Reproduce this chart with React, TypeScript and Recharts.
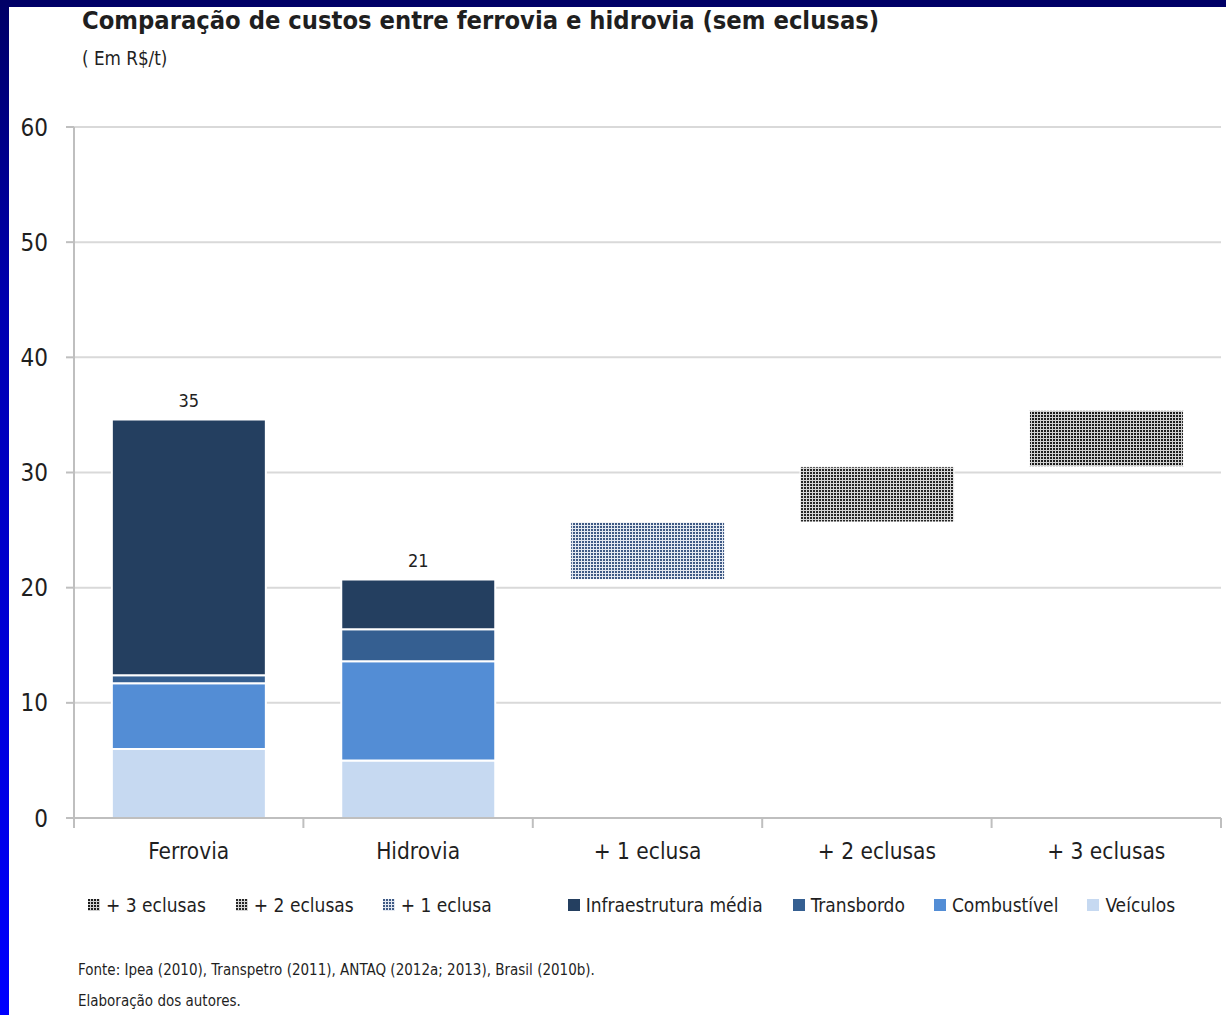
import React from "react";
import {
  BarChart,
  Bar,
  XAxis,
  YAxis,
  CartesianGrid,
  Legend,
  LabelList,
} from "recharts";

// Categories and stacked values (R$/t)
const categories = ["Ferrovia", "Hidrovia", "+ 1 eclusa", "+ 2 eclusas", "+ 3 eclusas"];
const base = [null, null, 20.7, 25.7, 30.5];
const veiculos = [6.0, 5.0, null, null, null];
const combustivel = [5.7, 8.6, null, null, null];
const transbordo = [0.7, 2.8, null, null, null];
const infraestrutura = [22.2, 4.3, null, null, null];
const eclusa1 = [null, null, 5.0, null, null];
const eclusa2 = [null, null, null, 4.8, null];
const eclusa3 = [null, null, null, null, 4.9];
const totals = [35, 21, 26, 30, 35];
const yTicks = [0, 10, 20, 30, 40, 50, 60];

const FONT = '"Liberation Sans Narrow", "DejaVu Sans Condensed", "Roboto Condensed", "Noto Sans", sans-serif';
const TEXT = "#1f1f1f";

const chartData = categories.map((name, i) => ({
  name,
  base: base[i],
  veiculos: veiculos[i],
  combustivel: combustivel[i],
  transbordo: transbordo[i],
  infraestrutura: infraestrutura[i],
  eclusa1: eclusa1[i],
  eclusa2: eclusa2[i],
  eclusa3: eclusa3[i],
  total: totals[i],
}));

// legend order as in the source
const legendItems = [
  { label: "+ 3 eclusas", fill: "url(#pat-dark)", gap: 0 },
  { label: "+ 2 eclusas", fill: "url(#pat-dark2)", gap: 30 },
  { label: "+ 1 eclusa", fill: "url(#pat-blue)", gap: 29 },
  { label: "Infraestrutura média", fill: "#243f60", gap: 76 },
  { label: "Transbordo", fill: "#355f91", gap: 30 },
  { label: "Combustível", fill: "#538dd5", gap: 29 },
  { label: "Veículos", fill: "#c6d9f1", gap: 29 },
];

function Patterns() {
  return (
    <svg width={0} height={0} style={{ position: "absolute" }}>
      <defs>
        <pattern id="pat-blue" width={3} height={3} patternUnits="userSpaceOnUse">
          <rect width={3} height={3} fill="#e4e9f1" />
          <rect width={2} height={2} fill="#3f5a85" />
        </pattern>
        <pattern id="pat-dark" width={3} height={3} patternUnits="userSpaceOnUse">
          <rect width={3} height={3} fill="#cfcfcf" />
          <rect width={2} height={2} fill="#1c1c1c" />
        </pattern>
        <pattern id="pat-dark2" width={3} height={3} patternUnits="userSpaceOnUse">
          <rect width={3} height={3} fill="#d6d6d6" />
          <rect width={2} height={2} fill="#262626" />
        </pattern>
      </defs>
    </svg>
  );
}

const renderLegend = () => (
  <div
    style={{
      display: "flex",
      alignItems: "center",
      height: 50,
      paddingTop: 4,
      boxSizing: "border-box",
      paddingLeft: 88,
      fontFamily: FONT,
      fontSize: 19,
      color: TEXT,
      whiteSpace: "nowrap",
    }}
  >
    {legendItems.map((it) => (
      <div key={it.label} style={{ display: "flex", alignItems: "center", marginLeft: it.gap }}>
        <svg width={12} height={12} style={{ marginRight: 6 }}>
          <rect width={12} height={12} fill={it.fill} />
        </svg>
        <span>{it.label}</span>
      </div>
    ))}
  </div>
);

// x tick: category label plus tick marks at the band boundaries
const CategoryTick = (props: any) => {
  const { x, y, payload, index, visibleTicksCount } = props;
  const half = payload.offset || 0;
  const last = index === (visibleTicksCount ?? 5) - 1;
  return (
    <g>
      <line x1={x - half} x2={x - half} y1={y} y2={y + 10} stroke="#bfbfbf" strokeWidth={2} />
      {last && <line x1={x + half} x2={x + half} y1={y} y2={y + 10} stroke="#bfbfbf" strokeWidth={2} />}
      <text x={x} y={y + 41} textAnchor="middle" fontFamily={FONT} fontSize={22.5} fill={TEXT}>
        {payload.value}
      </text>
    </g>
  );
};

const topLabel = (key: string) => (props: any) => {
  const { x, y, width, index } = props;
  if (chartData[index][key] == null) return null;
  return (
    <text x={x + width / 2} y={y - 13} textAnchor="middle" fontFamily={FONT} fontSize={18} fill={TEXT}>
      {totals[index]}
    </text>
  );
};

export default function App() {
  return (
    <div
      style={{
        position: "absolute",
        left: 0,
        top: 0,
        width: 1226,
        height: 1015,
        background: "linear-gradient(to bottom, #000066 0%, #0000b0 30%, #0000ff 100%)",
        overflow: "hidden",
      }}
    >
      <Patterns />
      <div style={{ position: "absolute", left: 9, top: 7, width: 1217, height: 1008, background: "#fff" }} />
      <div
        style={{
          position: "absolute",
          left: 82,
          top: 6,
          fontFamily: FONT,
          fontWeight: "bold",
          fontSize: 25.3,
          color: TEXT,
          whiteSpace: "nowrap",
        }}
      >
        Comparação de custos entre ferrovia e hidrovia (sem eclusas)
      </div>
      <div style={{ position: "absolute", left: 82, top: 48, fontFamily: FONT, fontSize: 18.7, color: TEXT }}>
        ( Em R$/t)
      </div>

      <div style={{ position: "absolute", left: 0, top: 100 }}>
        <BarChart
          width={1226}
          height={828}
          data={chartData}
          margin={{ top: 27, right: 5, bottom: 0, left: 0 }}
          barCategoryGap="16.5%"
        >
          <CartesianGrid vertical={false} stroke="#d9d9d9" strokeWidth={2} />
          <XAxis
            dataKey="name"
            height={60}
            axisLine={{ stroke: "#bfbfbf", strokeWidth: 2 }}
            tickLine={false}
            tickSize={0}
            tickMargin={0}
            tick={<CategoryTick />}
            interval={0}
          />
          <YAxis
            width={74}
            domain={[0, 60]}
            ticks={yTicks}
            axisLine={{ stroke: "#bfbfbf", strokeWidth: 2 }}
            tickLine={{ stroke: "#bfbfbf", strokeWidth: 2 }}
            tickSize={8}
            tickMargin={18}
            tick={{ fontFamily: FONT, fontSize: 24, fill: TEXT }}
          />
          <Legend verticalAlign="bottom" height={50} content={renderLegend} />
          <Bar dataKey="base" stackId="a" fill="transparent" isAnimationActive={false} legendType="none" />
          <Bar dataKey="veiculos" stackId="a" fill="#c6d9f1" stroke="#fff" strokeWidth={2} isAnimationActive={false} />
          <Bar dataKey="combustivel" stackId="a" fill="#538dd5" stroke="#fff" strokeWidth={2} isAnimationActive={false} />
          <Bar dataKey="transbordo" stackId="a" fill="#355f91" stroke="#fff" strokeWidth={2} isAnimationActive={false} />
          <Bar dataKey="infraestrutura" stackId="a" fill="#243f60" stroke="#fff" strokeWidth={2} isAnimationActive={false}>
            <LabelList dataKey="total" content={topLabel("infraestrutura")} />
          </Bar>
          <Bar dataKey="eclusa1" stackId="a" fill="url(#pat-blue)" stroke="#fff" strokeWidth={1} isAnimationActive={false}>
            <LabelList dataKey="total" content={topLabel("eclusa1")} />
          </Bar>
          <Bar dataKey="eclusa2" stackId="a" fill="url(#pat-dark2)" stroke="#fff" strokeWidth={1} isAnimationActive={false}>
            <LabelList dataKey="total" content={topLabel("eclusa2")} />
          </Bar>
          <Bar dataKey="eclusa3" stackId="a" fill="url(#pat-dark)" stroke="#fff" strokeWidth={1} isAnimationActive={false}>
            <LabelList dataKey="total" content={topLabel("eclusa3")} />
          </Bar>
        </BarChart>
      </div>

      <div style={{ position: "absolute", left: 78, top: 961, fontFamily: FONT, fontSize: 15, color: TEXT, whiteSpace: "nowrap" }}>
        Fonte: Ipea (2010), Transpetro (2011), ANTAQ (2012a; 2013), Brasil (2010b).
      </div>
      <div style={{ position: "absolute", left: 78, top: 992, fontFamily: FONT, fontSize: 15, color: TEXT, whiteSpace: "nowrap" }}>
        Elaboração dos autores.
      </div>
    </div>
  );
}
